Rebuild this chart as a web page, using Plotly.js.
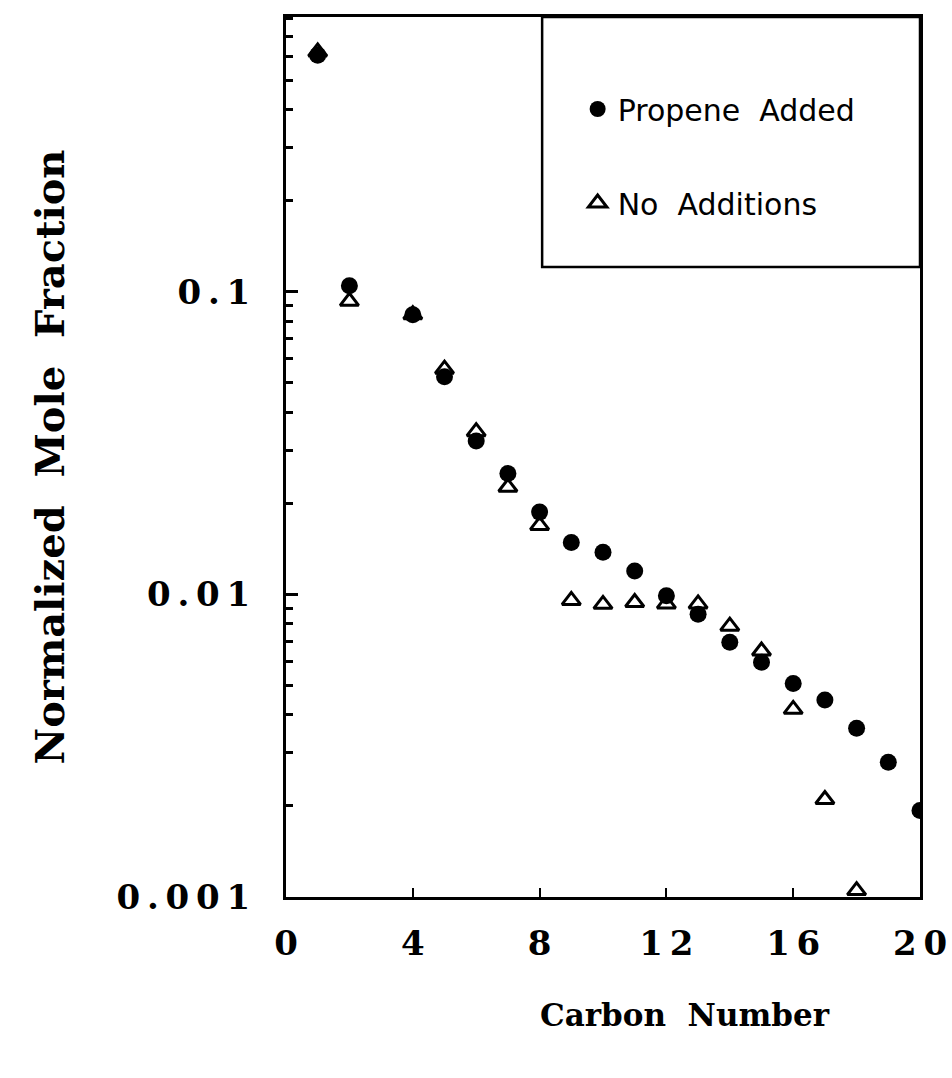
<!DOCTYPE html>
<html>
<head>
<meta charset="utf-8">
<script src="https://cdn.plot.ly/plotly-3.0.1.min.js"></script>
<style>html,body{margin:0;padding:0;background:#fff;}#chart{width:952px;height:1078px;}</style>
</head>
<body>
<div id="chart"></div>
<script>
// Carbon numbers
const carbonPropene = [1, 2, 4, 5, 6, 7, 8, 9, 10, 11, 12, 13, 14, 15, 16, 17, 18, 19, 20];
const molePropene   = [0.605, 0.1046, 0.084, 0.0524, 0.0321, 0.0251, 0.0187, 0.01485, 0.01377, 0.01194, 0.0099, 0.0086, 0.00695, 0.00597, 0.00508, 0.00448, 0.00361, 0.00279, 0.00193];

const carbonNoAdd = [1, 2, 4, 5, 6, 7, 8, 9, 10, 11, 12, 13, 14, 15, 16, 17, 18];
const moleNoAdd   = [0.62, 0.093, 0.084, 0.0555, 0.0345, 0.0226, 0.0169, 0.00955, 0.00927, 0.0094, 0.0093, 0.0093, 0.00785, 0.0065, 0.00417, 0.0021, 0.00105];

const xTickVals = [0, 4, 8, 12, 16, 20];
const xTickText = ['0', '4', '8', '1\u20092', '1\u20096', '2\u20090'];
const yTickVals = [0.001, 0.01, 0.1];
const yTickText = ['0\u2009.\u20090\u20090\u20091', '0\u2009.\u20090\u20091', '0\u2009.\u20091'];
const yMinorVals = [0.002,0.003,0.004,0.005,0.006,0.007,0.008,0.009,
                    0.02,0.03,0.04,0.05,0.06,0.07,0.08,0.09,
                    0.2,0.3,0.4,0.5,0.6,0.7,0.8];
const xTitle = 'Carbon  Number';
const yTitle = 'Normalized  Mole  Fraction';

const serif = 'DejaVu Serif, serif';

const traces = [
  {
    x: carbonNoAdd, y: moleNoAdd, name: 'No  Additions', type: 'scatter', mode: 'markers',
    legendgroup: 'b', legendrank: 2,
    marker: {symbol: 'triangle-up-open', size: 16, color: '#000', line: {width: 3, color: '#000'}}
  },
  {
    x: carbonPropene, y: molePropene, name: 'Propene  Added', type: 'scatter', mode: 'markers',
    legendgroup: 'a', legendrank: 1,
    marker: {symbol: 'circle', size: 17, color: '#000', line: {width: 0}}
  }
];

const layout = {
  width: 952, height: 1078,
  paper_bgcolor: '#fff', plot_bgcolor: '#fff',
  margin: {l: 286, r: 32, t: 17, b: 181},
  showlegend: true,
  legend: {
    x: 0.46, y: 0.925, xanchor: 'left', yanchor: 'top',
    bgcolor: 'rgba(0,0,0,0)', borderwidth: 0,
    font: {family: 'DejaVu Sans, sans-serif', size: 30, color: '#000'},
    traceorder: 'grouped', tracegroupgap: 52, itemsizing: 'trace'
  },
  xaxis: {
    range: [0, 20], tickvals: xTickVals, ticktext: xTickText,
    ticks: 'inside', ticklen: 9, tickwidth: 2, tickcolor: '#000',
    showline: true, linewidth: 3, linecolor: '#000', mirror: true,
    showgrid: false, zeroline: false,
    ticklabelstandoff: 14,
    tickfont: {family: serif, size: 34, color: '#000', weight: 'bold'}
  },
  yaxis: {
    type: 'log', range: [-3, -0.092],
    tickvals: yTickVals, ticktext: yTickText,
    ticks: 'inside', ticklen: 12, tickwidth: 3, tickcolor: '#000',
    minor: {tickvals: yMinorVals, ticks: 'inside', ticklen: 7, tickwidth: 3, tickcolor: '#000', showgrid: false},
    showline: true, linewidth: 3, linecolor: '#000', mirror: true,
    showgrid: false, zeroline: false,
    ticklabelstandoff: 26,
    tickfont: {family: serif, size: 34, color: '#000', weight: 'bold'},
    title: {text: yTitle, standoff: 40,
            font: {family: serif, size: 40, color: '#000', weight: 'bold'}}
  },
  annotations: [
    {text: xTitle, xref: 'paper', yref: 'paper', x: 0.629, y: -0.134,
     xanchor: 'center', yanchor: 'middle', showarrow: false,
     font: {family: serif, size: 31, color: '#000', weight: 'bold'}}
  ],
  shapes: [
    {type: 'rect', xref: 'paper', yref: 'paper', x0: 0.404, x1: 1, y0: 0.716, y1: 1,
     line: {color: '#000', width: 2.5}, fillcolor: 'rgba(0,0,0,0)', layer: 'above'}
  ]
};

Plotly.newPlot('chart', traces, layout, {displayModeBar: false, staticPlot: true});
</script>
</body>
</html>
